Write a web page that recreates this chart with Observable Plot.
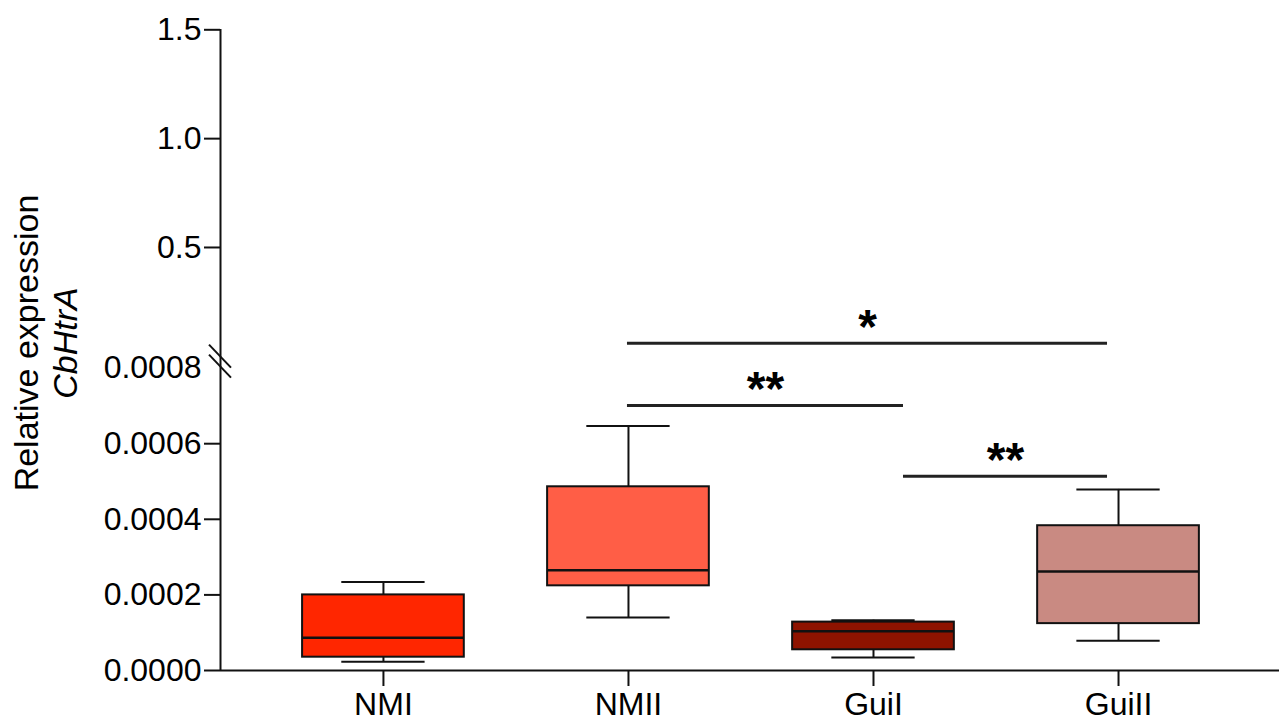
<!DOCTYPE html>
<html>
<head>
<meta charset="utf-8">
<script src="https://cdn.jsdelivr.net/npm/d3@7"></script>
<script src="https://cdn.jsdelivr.net/npm/@observablehq/plot@0.6"></script>
<style>
  html, body { margin: 0; padding: 0; background: #fff; }
  #chart svg { display: block; }
  #chart svg g[aria-label*="axis"] line,
  #chart svg g[aria-label*="axis"] path { stroke-width: 2px; stroke: #111; }
</style>
</head>
<body>
<div id="chart"></div>
<script>
// ---- data ----
const groups = ["NMI", "NMII", "GuiI", "GuiII"];
const whiskerLow  = [0.000023, 0.000140, 0.0000344, 0.0000786];
const q1          = [0.0000352, 0.000224, 0.0000548, 0.000124];
const median      = [0.0000865, 0.000265, 0.000104, 0.000262];
const q3          = [0.000200, 0.000486, 0.000128, 0.000383];
const whiskerHigh = [0.000234, 0.000647, 0.000133, 0.000479];
const groupColors = ["#FF2600", "#FF5E46", "#8E1300", "#C98A82"];

const yTickValues = [0, 0.0002, 0.0004, 0.0006, 0.5, 1.0, 1.5];
const breakTickValue = [0.0008];

const compFrom  = ["NMII", "NMII", "GuiI"];
const compTo    = ["GuiII", "GuiI", "GuiII"];
const compLevel = [0.000866, 0.000701, 0.000514];
const compLabel = ["*", "**", "**"];

// ---- tables built from the arrays ----
const boxes = groups.map((g, i) => ({
  group: g, i, lo: whiskerLow[i], q1: q1[i], med: median[i], q3: q3[i], hi: whiskerHigh[i]
}));
const comps = compFrom.map((f, k) => ({
  from: groups.indexOf(f), to: groups.indexOf(compTo[k]), y: compLevel[k], label: compLabel[k]
}));

// ---- styling ----
const ink = "#111";
const half = 0.33, capHalf = 0.17;
const compInsets = [[-1, 11], [-1, -30], [30, 11]];
const xDomain = [-0.665, 3.657];
const breakAt = 0.000817;

const compMarks = comps.flatMap((c, k) => {
  const [il, ir] = compInsets[k];
  return [
    Plot.ruleY([c], {x1: "from", x2: "to", y: "y", insetLeft: il, insetRight: ir, stroke: "#222", strokeWidth: 3}),
    Plot.text([c], {x: d => (d.from + d.to) / 2, y: "y", text: "label", dx: (il - ir) / 2, dy: -16,
      fontSize: 48, fontWeight: "bold", fill: "#000"})
  ];
});

const breakMark = (index, scales, values, dims) => {
  const g = d3.create("svg:g");
  const x0 = dims.marginLeft;
  const yc = scales.y(breakAt);
  for (const off of [-5, 5]) {
    g.append("line")
      .attr("x1", x0 - 11).attr("y1", yc + off - 11.5)
      .attr("x2", x0 + 11).attr("y2", yc + off + 11.5)
      .attr("stroke", ink).attr("stroke-width", 2);
  }
  return g.node();
};

const chart = Plot.plot({
  width: 1279,
  height: 722,
  marginLeft: 220,
  marginRight: 0,
  marginTop: 29,
  marginBottom: 52,
  style: {fontFamily: "'Liberation Sans', Arial, Helvetica, sans-serif", fontSize: "32px", color: "#000", background: "#fff"},
  x: {
    type: "linear", domain: xDomain, ticks: [0, 1, 2, 3], tickFormat: i => groups[i],
    tickSize: 16, tickPadding: 6, label: null
  },
  y: {
    type: "linear",
    domain: [0, 0.0009, 0.12, 1.5],
    range: [670, 329.8, 329.7, 29.3],
    ticks: yTickValues,
    tickFormat: d => d >= 0.1 ? d.toFixed(1) : d.toFixed(4),
    tickSize: 16, tickPadding: 3, label: null
  },
  color: {domain: groups, range: groupColors},
  marks: [
    Plot.ruleY([0], {stroke: ink, strokeWidth: 2}),
    Plot.ruleX([xDomain[0]], {stroke: ink, strokeWidth: 2}),
    breakMark,
    Plot.text(breakTickValue, {x: xDomain[0], y: d => d, text: d => d.toFixed(4), textAnchor: "end", dx: -19, fill: "#000"}),
    // whiskers
    Plot.ruleX(boxes, {x: "i", y1: "lo", y2: "q1", stroke: ink, strokeWidth: 2}),
    Plot.ruleX(boxes, {x: "i", y1: "q3", y2: "hi", stroke: ink, strokeWidth: 2}),
    Plot.ruleY(boxes, {x1: d => d.i - capHalf, x2: d => d.i + capHalf, y: "lo", stroke: ink, strokeWidth: 2}),
    Plot.ruleY(boxes, {x1: d => d.i - capHalf, x2: d => d.i + capHalf, y: "hi", stroke: ink, strokeWidth: 2}),
    // boxes
    Plot.rect(boxes, {x1: d => d.i - half, x2: d => d.i + half, y1: "q1", y2: "q3", fill: "group", stroke: ink, strokeWidth: 2}),
    Plot.ruleY(boxes, {x1: d => d.i - half, x2: d => d.i + half, y: "med", stroke: ink, strokeWidth: 2.5}),
    // significance
    ...compMarks,
    // y title
    Plot.text(["Relative expression"], {frameAnchor: "left", textAnchor: "middle", rotate: -90, dx: -193, dy: -7, fontSize: 34, fill: "#000"}),
    Plot.text(["CbHtrA"], {frameAnchor: "left", textAnchor: "middle", rotate: -90, dx: -154, dy: -7, fontSize: 34, fontStyle: "italic", fill: "#000"})
  ]
});
document.getElementById("chart").appendChild(chart);
</script>
</body>
</html>
